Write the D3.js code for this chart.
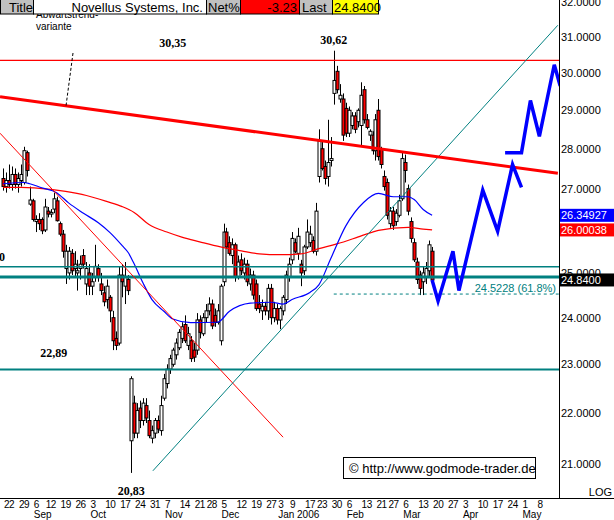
<!DOCTYPE html>
<html><head><meta charset="utf-8">
<script src="https://cdn.jsdelivr.net/npm/d3@7"></script>
<style>body{margin:0;background:#fff;} svg{display:block;font-family:"Liberation Sans",Arial,sans-serif;}</style>
</head><body><svg id="c" width="614" height="520"></svg>
<script>
// ---- data (daily candles, index 0 = 22 Aug 2005) ----
const opens = [27.25,27.05,27.20,27.10,27.35,27.10,27.20,27.15,27.90,26.62,
26.70,26.20,26.25,26.25,26.00,26.45,26.38,26.50,26.70,26.15,
25.90,25.10,25.00,25.45,25.10,25.00,25.10,25.40,24.75,25.00,
24.70,24.90,25.10,24.75,24.55,24.40,24.45,24.00,23.55,23.45,
24.95,24.70,24.85,21.45,22.20,21.60,22.10,21.85,22.15,21.85,
21.50,21.60,21.85,21.65,22.30,22.60,22.90,23.00,23.20,23.35,
23.55,23.85,23.40,23.50,23.30,23.30,23.95,23.65,24.00,24.15,
24.30,24.05,23.90,23.50,24.80,25.95,25.70,25.40,25.65,24.90,
25.30,25.00,25.20,24.75,24.95,24.75,24.30,24.15,24.25,24.15,
24.65,24.00,24.20,23.95,24.15,24.40,24.90,25.30,25.70,25.45,
25.20,25.05,25.60,25.70,25.75,25.50,27.30,28.00,27.55,27.30,
27.70,29.45,30.05,29.30,29.30,29.05,28.40,28.60,28.85,28.70,
28.60,29.55,28.75,28.35,28.35,27.95,29.00,28.00,27.30,27.15,
26.15,26.45,26.20,26.35,26.75,27.65,27.00,26.20,25.70,25.25,
24.95,24.80,24.90,25.05,25.50];
const highs = [27.50,27.40,27.60,27.55,27.50,27.40,27.60,28.05,27.95,27.05,
26.75,26.35,26.40,26.30,26.75,26.55,26.50,26.90,26.80,26.20,
26.00,25.65,25.60,25.55,25.50,25.30,25.40,25.55,25.25,25.20,
25.00,25.65,25.20,25.00,24.70,24.85,24.50,24.15,23.70,25.15,
25.20,25.25,24.95,22.75,22.35,22.20,22.25,22.30,22.30,22.05,
21.75,21.90,21.95,22.35,22.80,23.00,23.20,23.35,23.55,23.75,
23.90,24.05,23.80,23.60,23.45,24.10,24.05,24.10,24.30,24.45,
24.40,24.20,24.30,24.75,26.15,26.05,25.85,25.80,25.70,25.40,
25.45,25.35,25.30,25.10,25.05,24.85,24.50,24.40,24.35,24.75,
24.75,24.35,24.30,24.25,24.50,25.05,25.35,25.95,25.80,26.05,
25.30,25.65,26.25,26.10,25.85,26.65,28.50,28.20,27.70,28.75,
28.30,30.62,30.20,29.70,29.45,29.20,29.10,28.95,28.95,29.05,
29.75,29.65,28.90,28.50,28.45,28.90,29.30,28.05,27.45,27.25,
26.55,26.55,26.50,26.85,27.90,27.85,27.10,26.30,25.80,25.35,
25.05,25.15,25.25,25.75,25.60];
const lows = [26.95,26.90,27.00,26.95,27.00,26.90,27.05,27.10,27.30,26.58,
26.20,25.95,26.00,25.90,25.95,26.30,26.30,26.40,26.20,25.85,
25.35,24.75,24.85,24.95,24.90,24.60,24.85,25.10,24.50,24.50,
24.50,24.80,24.80,24.50,24.25,24.20,23.90,23.30,23.30,23.40,
24.45,24.30,24.50,20.83,21.50,21.50,21.70,21.75,21.80,21.50,
21.40,21.50,21.60,21.55,22.25,22.50,22.80,22.95,23.10,23.30,
23.45,23.45,23.30,23.05,23.05,23.20,23.55,23.60,23.90,24.05,
23.75,23.80,23.85,23.40,24.70,25.55,25.40,25.20,24.80,24.85,
24.95,24.85,24.70,24.60,24.40,24.15,24.10,23.95,24.05,23.95,
23.85,23.90,23.85,23.75,24.05,24.30,24.80,25.20,25.45,25.30,
24.70,24.95,25.55,25.60,25.45,25.40,27.15,27.45,27.10,27.05,
27.55,29.15,29.45,29.20,28.20,28.30,28.30,28.50,28.40,28.55,
28.05,28.65,28.50,28.20,27.85,27.70,27.70,27.50,26.95,26.25,
26.05,26.00,26.10,26.30,26.70,27.15,26.35,25.70,25.25,24.75,
24.50,24.50,24.75,24.90,24.80];
const closes = [27.05,27.20,27.10,27.35,27.10,27.25,27.35,27.95,27.45,26.72,
26.25,26.25,26.15,25.98,26.55,26.38,26.42,26.75,26.22,25.90,
25.50,25.50,25.50,25.05,25.20,25.05,25.20,25.20,25.10,24.70,
24.80,25.15,24.90,24.60,24.35,24.70,24.15,23.50,23.40,24.95,
24.80,24.90,24.60,22.70,21.60,22.05,21.85,22.20,21.90,21.55,
21.65,21.85,21.68,22.15,22.70,22.90,23.12,23.30,23.45,23.68,
23.80,23.50,23.65,23.12,23.15,23.95,23.68,24.00,24.15,24.30,
23.82,23.90,24.15,24.70,25.95,25.60,25.45,25.65,24.90,25.25,
25.05,25.20,24.80,24.95,24.50,24.20,24.20,24.25,24.15,24.65,
24.00,24.20,23.95,24.20,24.45,24.95,25.20,25.80,25.50,25.85,
25.00,25.60,25.95,25.90,25.50,26.45,28.20,27.50,27.25,27.65,
27.75,29.80,29.55,29.40,28.35,28.40,29.00,28.85,28.50,29.00,
29.40,28.75,28.55,28.45,27.95,28.75,27.80,27.60,27.05,26.35,
26.45,26.10,26.40,26.70,27.75,27.45,26.45,25.80,25.30,24.85,
24.65,25.00,25.10,25.65,24.84];

// moving averages (day index, value)
const maBlueIdx = [0,7,9,13,18,22,27,32,36,40,42,44,47,50,54,57,63,72,76,83,90,94,97,103,106,110,115,121,126,131,136,138,141,144];
const maBlueVal = [27.12,27.15,27.12,27.02,26.9,26.65,26.4,26.17,25.93,25.63,25.47,25.21,24.77,24.4,24.14,23.97,23.89,23.9,24.14,24.32,24.34,24.3,24.4,24.56,24.73,25.33,26.09,26.66,26.88,26.8,26.8,26.73,26.49,26.35];
const maRedIdx = [0,6,16,21,28,35,40,44,49,55,60,66,73,80,86,93,100,106,112,119,124,126,136,141,144];
const maRedVal = [27.03,27.03,26.98,26.93,26.83,26.68,26.56,26.42,26.13,25.95,25.83,25.72,25.6,25.51,25.44,25.42,25.44,25.56,25.67,25.83,25.95,25.99,26.06,26.02,26.0];

// projected path (blue)
const fcIdx1 = [144,146,151,153,161,166,171,174];
const fcVal1 = [24.84,24.37,25.5,24.6,26.96,25.97,27.6,27.03];
const fcIdx2 = [168.5,174,177,180,185,187];
const fcVal2 = [27.9,27.9,29.26,28.32,30.23,29.65];

// trend lines [index, price]
const trendThin = [[-1,28.4],[94,21.52]];
const trendThick = [[-1,29.36],[186.2,27.38]];
const trendUp = [[50.3,20.87],[186.2,31.34]];

const levelRed = 30.35;
const levelTeal = [25.14, 24.91, 22.89];
const fibLevel = 24.5228, fibStart = 111;

const yTicks = [21,22,23,24,25,27,28,29,30,31,32];
const tickLabels = ["22","29","6","12","19","26","3","10","17","24","31","7","14","21","28","5","12","19","27","3","9","17","23","30","6","13","21","27","6","13","20","27","3","10","17","24","1","8"];
const tickIdx = [0,5,10,14,19,24,29,34,39,44,49,54,59,64,68,73,78,83,88,92,96,101,105,110,115,120,125,129,134,139,144,149,154,159,164,169,174,179];
const monthLabels = ["Sep","Oct","Nov","Dec","Jan 2006","Feb","Mar","Apr","May"];
const monthIdx = [10,29,54,73,92,115,134,154,174];

const annotations = [
  {t:"30,35", i:57, v:30.72},
  {t:"30,62", i:111, v:30.8},
  {t:"22,89", i:17, v:23.15},
  {t:"20,83", i:43, v:20.42}
];
const markers = [
  {v:26.34927, t:"26.34927", fill:"#0000ff"},
  {v:26.00038, t:"26.00038", fill:"#ff0000"},
  {v:24.84, t:"24.8400", fill:"#000000"}
];

// ---- drawing ----
const svg = d3.select('#c');
const PR = 559, PB = 498;
const x = d3.scaleLinear().domain([0,144]).range([3,432.1]);
const y = d3.scaleLog().domain([21,32]).range([464,2.4]);

svg.append('defs').append('clipPath').attr('id','clip')
  .append('rect').attr('x',0).attr('y',0).attr('width',PR).attr('height',PB);
const g = svg.append('g').attr('clip-path','url(#clip)');

// candles
const data = closes.map((c,i)=>({i,o:opens[i],h:highs[i],l:lows[i],c}));
const cg = g.append('g');
cg.selectAll('line').data(data).join('line')
  .attr('x1',d=>Math.round(x(d.i))+0.5).attr('x2',d=>Math.round(x(d.i))+0.5)
  .attr('y1',d=>y(d.h)).attr('y2',d=>y(d.l))
  .attr('stroke','#000').attr('stroke-width',1);
cg.selectAll('rect').data(data).join('rect')
  .attr('x',d=>Math.round(x(d.i))-1).attr('width',3)
  .attr('y',d=>y(Math.max(d.o,d.c)))
  .attr('height',d=>Math.max(1,Math.abs(y(d.o)-y(d.c))))
  .attr('fill',d=>d.c<d.o?'#ff0000':'#ffffff')
  .attr('stroke','#000').attr('stroke-width',1);

// moving averages
const maLine = d3.line().x(d=>x(d[0])).y(d=>y(d[1])).curve(d3.curveMonotoneX);
g.append('path').attr('d',maLine(maRedIdx.map((d,k)=>[d,maRedVal[k]])))
  .attr('fill','none').attr('stroke','#ff0000').attr('stroke-width',1.2);
g.append('path').attr('d',maLine(maBlueIdx.map((d,k)=>[d,maBlueVal[k]])))
  .attr('fill','none').attr('stroke','#0000ff').attr('stroke-width',1.2);

// horizontal levels
g.append('line').attr('x1',0).attr('x2',PR).attr('y1',y(levelRed)).attr('y2',y(levelRed))
  .attr('stroke','#ff0000').attr('stroke-width',1.2);
const tealW = [1.5,3,2];
levelTeal.forEach((v,k)=>{
  g.append('line').attr('x1',0).attr('x2',PR).attr('y1',y(v)).attr('y2',y(v))
   .attr('stroke','#008080').attr('stroke-width',tealW[k]);
});
g.append('line').attr('x1',x(fibStart)).attr('x2',PR).attr('y1',y(fibLevel)).attr('y2',y(fibLevel))
  .attr('stroke','#008080').attr('stroke-width',1).attr('stroke-dasharray','3,3');
g.append('text').attr('x',556).attr('y',y(fibLevel)-2).attr('text-anchor','end')
  .attr('font-size',11).attr('fill','#008080').text(fibLevel.toFixed(4)+" (61.8%)");

// trend lines
const tl = d3.line().x(d=>x(d[0])).y(d=>y(d[1]));
g.append('path').attr('d',tl(trendThin)).attr('stroke','#ff0000').attr('stroke-width',1).attr('fill','none');
g.append('path').attr('d',tl(trendUp)).attr('stroke','#008080').attr('stroke-width',1).attr('fill','none');
g.append('path').attr('d',tl(trendThick)).attr('stroke','#ff0000').attr('stroke-width',3).attr('fill','none');

// projection
const fl = d3.line().x(d=>x(d[0])).y(d=>y(d[1]));
[[fcIdx1,fcVal1],[fcIdx2,fcVal2]].forEach(([a,b])=>{
  g.append('path').attr('d',fl(a.map((d,k)=>[d,b[k]])))
   .attr('fill','none').attr('stroke','#0000ff').attr('stroke-width',3.5).attr('stroke-linejoin','miter');
});

// annotations
annotations.forEach(a=>{
  g.append('text').attr('x',x(a.i)).attr('y',y(a.v)).attr('text-anchor','middle')
   .attr('font-family','"Liberation Serif","Times New Roman",serif').attr('font-weight','bold')
   .attr('font-size',12).attr('fill','#000').text(a.t);
});
g.append('text').attr('x',5).attr('y',y(25.28)).attr('text-anchor','end')
   .attr('font-family','"Liberation Serif",serif').attr('font-weight','bold').attr('font-size',12).text("25,10");

// Abwärtstrend-variante label with dashed pointer
g.append('line').attr('x1',73).attr('y1',53).attr('x2',66).attr('y2',106)
  .attr('stroke','#000').attr('stroke-width',1).attr('stroke-dasharray','3,2');
g.append('text').attr('x',36).attr('y',18).attr('font-size',10).text("Abwärtstrend-");
g.append('text').attr('x',36).attr('y',30).attr('font-size',10).text("variante");

// copyright
svg.append('rect').attr('x',343.5).attr('y',457.5).attr('width',192).attr('height',21)
  .attr('fill','#fff').attr('stroke','#000');
svg.append('text').attr('x',349).attr('y',473).attr('font-size',13).text("© http://www.godmode-trader.de");

// axes
svg.append('line').attr('x1',PR+0.5).attr('x2',PR+0.5).attr('y1',0).attr('y2',PB).attr('stroke','#000');
svg.append('line').attr('x1',0).attr('x2',614).attr('y1',PB+0.5).attr('y2',PB+0.5).attr('stroke','#000');
const ya = svg.append('g');
ya.selectAll('text').data(yTicks).join('text')
  .attr('x',561).attr('y',d=>y(d)+4).attr('font-size',11).text(d=>d.toFixed(4));
markers.forEach(m=>{
  const yy = y(m.v);
  svg.append('rect').attr('x',560).attr('y',yy-6.5).attr('width',54).attr('height',13).attr('fill',m.fill);
  svg.append('text').attr('x',561).attr('y',yy+4).attr('font-size',11).attr('fill','#fff').text(m.t);
});
svg.append('text').attr('x',612).attr('y',496).attr('text-anchor','end').attr('font-size',11).text("LOG");

const xa = svg.append('g').attr('font-size',10).attr('letter-spacing',-0.5);
xa.selectAll('text.d').data(tickLabels).join('text').attr('class','d')
  .attr('x',(d,k)=>x(tickIdx[k])+1).attr('y',508).text(d=>d);
xa.selectAll('text.m').data(monthLabels).join('text').attr('class','m')
  .attr('x',(d,k)=>x(monthIdx[k])+1).attr('y',518).attr('letter-spacing',0).text(d=>d);

// header
const hdr = [
  {x:0,w:33,fill:"#c0c0c0",t:"Title",tx:9,anchor:"start"},
  {x:33,w:173,fill:"#ffffff",t:"Novellus Systems, Inc.",tx:203,anchor:"end"},
  {x:206,w:34,fill:"#c0c0c0",t:"Net%",tx:208,anchor:"start"},
  {x:240,w:59,fill:"#ff0000",t:"-3.23",tx:297,anchor:"end"},
  {x:299,w:33,fill:"#c0c0c0",t:"Last",tx:302,anchor:"start"},
  {x:332,w:46,fill:"#ffff00",t:"24.8400",tx:334,anchor:"start"}
];
hdr.forEach(h=>{
  svg.append('rect').attr('x',h.x+0.5).attr('y',-0.5).attr('width',h.w).attr('height',14.5)
    .attr('fill',h.fill).attr('stroke','#000');
  svg.append('text').attr('x',h.tx).attr('y',12).attr('text-anchor',h.anchor)
    .attr('font-size',13).text(h.t);
});
</script></body></html>
